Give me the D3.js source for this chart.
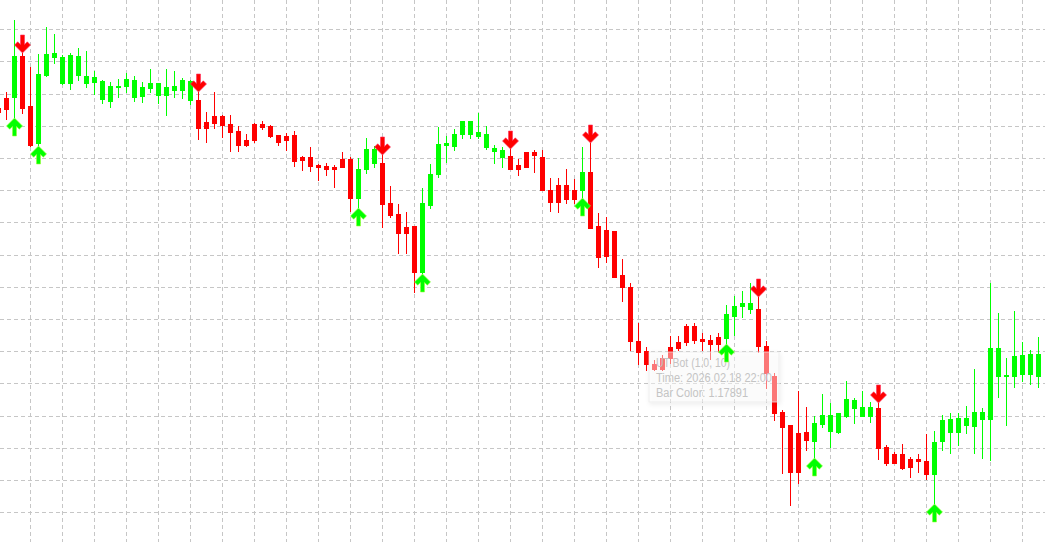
<!DOCTYPE html>
<html><head><meta charset="utf-8">
<script src="https://cdn.jsdelivr.net/npm/d3@7"></script>
<style>html,body{margin:0;padding:0;background:#fff;overflow:hidden}</style>
</head><body>
<svg id="chart" width="1045" height="542"></svg>
<script>
const W = 1045, H = 542;

// bar index categories (k = -1 .. 129)
const bars = d3.range(-1, 130);

const open = [
1.18126,1.18136,1.18137,1.18178,1.18128,1.18091,1.18159,1.18177,1.18151,1.18151,
1.18159,1.18151,1.18152,1.18135,1.18133,1.18147,1.18148,1.18137,1.18138,1.18146,
1.18139,1.18139,1.18144,1.18144,1.18134,1.18134,1.18112,1.18118,1.18118,1.18110,
1.18103,1.18094,1.18110,1.18110,1.18108,1.18099,1.18098,1.18099,1.18077,1.18077,
1.18069,1.18068,1.18067,1.18075,1.18075,1.18036,1.18065,1.18071,1.18071,1.18031,
1.18020,1.18007,1.18008,1.17962,1.18029,1.18060,1.18089,1.18088,1.18100,1.18100,
1.18098,1.18087,1.18083,1.18077,1.18078,1.18069,1.18082,1.18082,1.18077,1.18044,
1.18049,1.18049,1.18044,1.18044,1.18062,1.18008,1.18004,1.18003,1.17959,1.17947,
1.17893,1.17883,1.17870,1.17876,1.17887,1.17892,1.17908,1.17908,1.17895,1.17894,
1.17897,1.17896,1.17918,1.17928,1.17925,1.17925,1.17888,1.17858,1.17822,1.17809,
1.17801,1.17802,1.17793,1.17810,1.17803,1.17802,1.17818,1.17826,1.17818,1.17818,
1.17826,1.17787,1.17780,1.17780,1.17775,1.17775,1.17773,1.17760,1.17793,1.17802,
1.17802,1.17809,1.17808,1.17815,1.17815,1.17858,1.17858,1.17858,1.17860,1.17860,
1.17858];

const high = [
1.18128,1.18142,1.18214,1.18181,1.18167,1.18180,1.18207,1.18200,1.18179,1.18181,
1.18186,1.18183,1.18163,1.18154,1.18152,1.18155,1.18161,1.18158,1.18152,1.18165,
1.18151,1.18165,1.18163,1.18156,1.18154,1.18142,1.18122,1.18142,1.18119,1.18119,
1.18108,1.18100,1.18111,1.18113,1.18109,1.18099,1.18101,1.18103,1.18078,1.18087,
1.18070,1.18071,1.18069,1.18082,1.18077,1.18076,1.18096,1.18088,1.18079,1.18048,
1.18030,1.18022,1.18008,1.18046,1.18070,1.18107,1.18098,1.18105,1.18113,1.18113,
1.18121,1.18108,1.18089,1.18087,1.18085,1.18075,1.18082,1.18084,1.18084,1.18056,
1.18056,1.18065,1.18055,1.18087,1.18091,1.18021,1.18017,1.18003,1.17975,1.17951,
1.17911,1.17887,1.17874,1.17879,1.17898,1.17898,1.17910,1.17911,1.17901,1.17899,
1.17901,1.17929,1.17938,1.17943,1.17951,1.17937,1.17893,1.17861,1.17824,1.17809,
1.17843,1.17827,1.17818,1.17840,1.17831,1.17821,1.17853,1.17836,1.17843,1.17832,
1.17831,1.17789,1.17782,1.17790,1.17777,1.17780,1.17800,1.17803,1.17819,1.17821,
1.17821,1.17828,1.17865,1.17826,1.17951,1.17921,1.17876,1.17923,1.17892,1.17884,
1.17897];

const low = [
1.18120,1.18115,1.18117,1.18121,1.18088,1.18089,1.18158,1.18171,1.18150,1.18145,
1.18154,1.18147,1.18140,1.18131,1.18127,1.18137,1.18142,1.18133,1.18132,1.18142,
1.18131,1.18119,1.18137,1.18136,1.18130,1.18095,1.18092,1.18106,1.18097,1.18083,
1.18083,1.18088,1.18092,1.18105,1.18097,1.18089,1.18084,1.18068,1.18064,1.18063,
1.18054,1.18059,1.18047,1.18067,1.18023,1.18027,1.18061,1.18067,1.18007,1.18017,
1.17981,1.17981,1.17942,1.17961,1.18026,1.18057,1.18072,1.18084,1.18096,1.18096,
1.18096,1.18085,1.18071,1.18067,1.18065,1.18059,1.18067,1.18062,1.18044,1.18023,
1.18022,1.18031,1.18031,1.18037,1.18006,1.17967,1.17972,1.17957,1.17933,1.17884,
1.17870,1.17864,1.17864,1.17864,1.17871,1.17884,1.17889,1.17891,1.17884,1.17875,
1.17882,1.17891,1.17899,1.17917,1.17921,1.17882,1.17846,1.17814,1.17761,1.17729,
1.17751,1.17784,1.17777,1.17807,1.17787,1.17801,1.17817,1.17811,1.17818,1.17812,
1.17775,1.17769,1.17771,1.17765,1.17757,1.17762,1.17755,1.17731,1.17784,1.17781,
1.17789,1.17801,1.17781,1.17776,1.17774,1.17837,1.17809,1.17847,1.17853,1.17850,
1.17847];

const close = [
1.18122,1.18125,1.18178,1.18126,1.18089,1.18160,1.18180,1.18181,1.18177,1.18179,
1.18178,1.18158,1.18157,1.18153,1.18148,1.18148,1.18155,1.18154,1.18147,1.18151,
1.18151,1.18147,1.18148,1.18154,1.18153,1.18106,1.18106,1.18111,1.18109,1.18102,
1.18089,1.18089,1.18094,1.18107,1.18098,1.18092,1.18094,1.18073,1.18074,1.18068,
1.18067,1.18065,1.18065,1.18067,1.18036,1.18065,1.18085,1.18085,1.18030,1.18019,
1.18001,1.18001,1.17962,1.18031,1.18060,1.18090,1.18091,1.18100,1.18113,1.18113,
1.18102,1.18100,1.18086,1.18084,1.18065,1.18065,1.18067,1.18079,1.18044,1.18032,
1.18032,1.18035,1.18035,1.18062,1.18006,1.17977,1.17978,1.17957,1.17947,1.17893,
1.17882,1.17870,1.17865,1.17865,1.17876,1.17886,1.17892,1.17894,1.17893,1.17890,
1.17890,1.17920,1.17928,1.17931,1.17931,1.17888,1.17861,1.17821,1.17807,1.17762,
1.17762,1.17794,1.17811,1.17819,1.17819,1.17821,1.17835,1.17834,1.17827,1.17827,
1.17786,1.17771,1.17771,1.17766,1.17767,1.17773,1.17760,1.17792,1.17814,1.17815,
1.17816,1.17816,1.17822,1.17822,1.17886,1.17886,1.17859,1.17878,1.17879,1.17880,
1.17880];

// UT Bot signals (bar indices)
const buyBars  = [1, 4, 44, 52, 72, 90, 101, 116];
const sellBars = [2, 24, 47, 63, 73, 94, 109];

// visible price window and grid
const priceTop = 1.18234, priceBottom = 1.17692;
const gridPriceStart = 1.182043, gridPriceStep = 0.000322, gridCount = 16;
const gridEveryBars = 4;

const tooltipLines = ["UT Bot (1.0, 10)", "Time: 2026.02.18 22:00", "Bar Color: 1.17891"];
const tooltipWidths = [74, 116, 92];

const UP = "#00ff00", DOWN = "#ff0000";

const svg = d3.select("#chart");
svg.append("rect").attr("width", W).attr("height", H).attr("fill", "#fff");

const x = d3.scaleBand().domain(bars).range([-5.5, 1042.5]).padding(0);
const cx = k => x(k) + x.bandwidth() / 2;
const y = d3.scaleLinear().domain([priceTop, priceBottom]).range([0, H]);

// grid
const grid = svg.append("g").attr("stroke", "#c6c6c6").attr("stroke-width", 1)
  .attr("stroke-dasharray", "4,3").attr("fill", "none");
const gridPrices = d3.range(gridCount).map(j => gridPriceStart - j * gridPriceStep);
grid.selectAll("line.h").data(gridPrices).join("line").attr("class", "h")
  .attr("x1", 0).attr("x2", W)
  .attr("y1", p => Math.floor(y(p)) + 0.5).attr("y2", p => Math.floor(y(p)) + 0.5);
grid.selectAll("line.v").data(bars.filter(k => k >= 0 && (k + 1) % gridEveryBars === 0)).join("line").attr("class", "v")
  .attr("x1", k => cx(k)).attr("x2", k => cx(k)).attr("y1", 0).attr("y2", H);

// candles
const data = bars.map((k, i) => ({k, o: open[i], h: high[i], l: low[i], c: close[i]}));
const col = d => d.c >= d.o ? UP : DOWN;
const cg = svg.append("g").attr("shape-rendering", "crispEdges");
cg.selectAll("rect.wick").data(data).join("rect").attr("class", "wick")
  .attr("x", d => cx(d.k) - 0.5).attr("width", 1)
  .attr("y", d => Math.round(y(d.h)))
  .attr("height", d => Math.round(y(d.l)) - Math.round(y(d.h)) + 1)
  .attr("fill", col);
cg.selectAll("rect.body").data(data).join("rect").attr("class", "body")
  .attr("x", d => cx(d.k) - 2.5).attr("width", 5)
  .attr("y", d => Math.round(y(Math.max(d.o, d.c))))
  .attr("height", d => Math.round(y(Math.min(d.o, d.c))) - Math.round(y(Math.max(d.o, d.c))) + 1)
  .attr("fill", col);

// tooltip
const defs = svg.append("defs");
const f = defs.append("filter").attr("id", "sh").attr("x", "-20%").attr("y", "-30%").attr("width", "140%").attr("height", "160%");
f.append("feDropShadow").attr("dx", 1).attr("dy", 2).attr("stdDeviation", 2).attr("flood-color", "#000").attr("flood-opacity", 0.12);
const tip = svg.append("g");
tip.append("rect").attr("x", 649).attr("y", 352).attr("width", 130).attr("height", 50)
  .attr("fill", "#fff").attr("fill-opacity", 0.45).attr("stroke", "#e8e8e8").attr("stroke-opacity", 0.7)
  .attr("filter", "url(#sh)");
tip.selectAll("text").data(tooltipLines).join("text")
  .attr("x", 656).attr("y", (d, i) => 367 + i * 15)
  .attr("font-family", "'Liberation Sans', Arial, sans-serif").attr("font-size", 12.5)
  .attr("textLength", (d, i) => tooltipWidths[i]).attr("lengthAdjust", "spacingAndGlyphs")
  .attr("fill", "#c4c4c4").text(d => d);

// arrows
const upPath = "M0,0 L8,8 L4.8,11.2 L2,8.4 L2,18 L-2,18 L-2,8.4 L-4.8,11.2 L-8,8 Z";
const ag = svg.append("g");
ag.selectAll("path.buy").data(buyBars).join("path").attr("class", "buy")
  .attr("d", upPath)
  .attr("transform", k => `translate(${cx(k)},${Math.round(y(low[bars.indexOf(k)])) + 1})`)
  .attr("fill", UP).attr("stroke", "#9cff3a").attr("stroke-width", 0.6);
ag.selectAll("path.sell").data(sellBars).join("path").attr("class", "sell")
  .attr("d", upPath)
  .attr("transform", k => `translate(${cx(k)},${Math.round(y(high[bars.indexOf(k)]))}) scale(1,-1)`)
  .attr("fill", DOWN).attr("stroke", "#ff3060").attr("stroke-width", 0.6);
</script>
</body></html>
